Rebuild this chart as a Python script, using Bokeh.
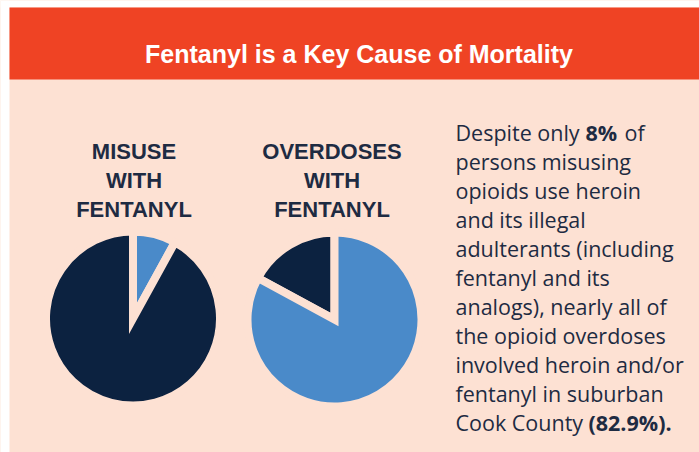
import math
from bokeh.plotting import figure
from bokeh.models import Range1d
from bokeh.core.properties import value
from bokeh.embed import file_html
from bokeh.resources import INLINE

# ---- data ----
title = "Fentanyl is a Key Cause of Mortality"
pie_labels = [["MISUSE", "WITH", "FENTANYL"], ["OVERDOSES", "WITH", "FENTANYL"]]
# shares in percent: [heroin/fentanyl, other]
misuse_shares = [8, 92]
overdose_shares = [82.9, 17.1]
para_lines = ["Despite only", "persons misusing", "opioids use heroin", "and its illegal",
              "adulterants (including", "fentanyl and its", "analogs), nearly all of",
              "the opioid overdoses", "involved heroin and/or", "fentanyl in suburban",
              "Cook County"]
bold_parts = ["8%", "(82.9%)."]
tail_part = "of"

# ---- style ----
RED = "#EF4324"
PEACH = "#FDE1D3"
NAVY = "#0C2240"
BLUE = "#4A8AC9"
TEXT = "#1E2B42"
W, H = 699, 452


def Y(py):
    return H - py


p = figure(width=W, height=H, output_backend="svg", toolbar_location=None,
           x_range=Range1d(0, W), y_range=Range1d(0, H), min_border=0)
p.axis.visible = False
p.grid.visible = False
p.outline_line_color = None
p.background_fill_color = PEACH
p.border_fill_color = PEACH

# white page edges
p.quad(left=0, right=9, bottom=0, top=H, fill_color="white", line_color=None)
p.quad(left=0, right=W, bottom=Y(7), top=H, fill_color="white", line_color=None)

# banner
p.quad(left=9, right=W, bottom=Y(79), top=Y(7), fill_color=RED, line_color=None)
p.text(x=[358.5], y=[Y(53)], text=[title], text_color="white", text_font=value("Liberation Sans"),
       text_font_style="bold", text_font_size="25px", text_align="center", text_baseline="alphabetic")

# pie labels
label_x = [133.5, 331.5]
for lx, lines in zip(label_x, pie_labels):
    p.text(x=[lx] * 3, y=[Y(151), Y(180), Y(209)], text=lines, text_color=TEXT,
           text_font=value("Liberation Sans"), text_font_style="bold", text_font_size="22px",
           text_align="center", text_baseline="alphabetic")


# pies
def draw_pie(cx, cy, shares, colors, clockwise_first):
    start = math.pi / 2
    for s, c in zip(shares, colors):
        span = 2 * math.pi * s / 100.0
        if clockwise_first:
            a0, a1 = start - span, start
            start = start - span
        else:
            a0, a1 = start, start + span
            start = start + span
        p.wedge(x=[cx], y=[cy], radius=87, radius_units="screen", start_angle=[a0], end_angle=[a1],
                fill_color=c, line_color=PEACH, line_width=8, line_join="miter")


draw_pie(132.5, Y(318), misuse_shares, [BLUE, NAVY], True)
draw_pie(334, Y(319), overdose_shares[::-1], [NAVY, BLUE], False)

# paragraph
x0 = 455
lh = 29
ys = [Y(132 + i * lh) for i in range(len(para_lines))]
p.text(x=[x0] * len(para_lines), y=ys, text=para_lines, text_color=TEXT,
       text_font=value("Open Sans"), text_font_size="21.5px", text_baseline="alphabetic")
p.text(x=[585, 588], y=[ys[0], ys[-1]], text=bold_parts, text_color=TEXT,
       text_font=value("Open Sans"), text_font_style="bold", text_font_size="21.5px",
       text_baseline="alphabetic")
p.text(x=[624], y=[ys[0]], text=[tail_part], text_color=TEXT,
       text_font=value("Open Sans"), text_font_size="21.5px", text_baseline="alphabetic")

open("out.html", "w").write(file_html(p, INLINE))
